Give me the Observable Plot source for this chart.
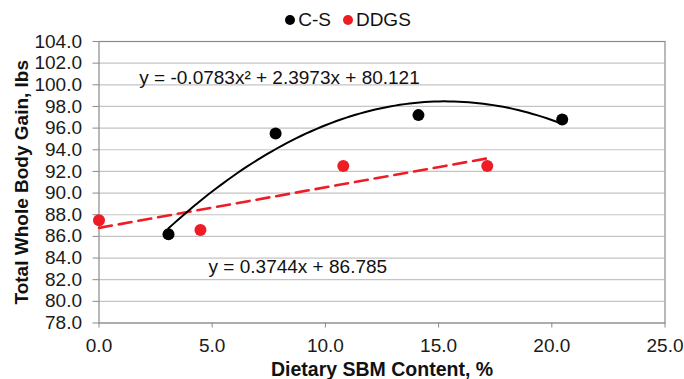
<!DOCTYPE html>
<html>
<head>
<meta charset="utf-8">
<script src="https://cdn.jsdelivr.net/npm/d3@7"></script>
<script src="https://cdn.jsdelivr.net/npm/@observablehq/plot@0.6"></script>
<style>
  html, body { margin: 0; padding: 0; background: #fff; }
  body { width: 684px; height: 379px; overflow: hidden; font-family: "Liberation Sans", Arial, sans-serif; }
  #legend { height: 30px; box-sizing: border-box; padding-top: 10px; display: flex; align-items: center; justify-content: center; margin-left: 12px; font-size: 19px; color: #111; }
  #legend .item { display: flex; align-items: center; margin: 0 6px; }
  #legend .sw { width: 10px; height: 10px; border-radius: 50%; margin-right: 3px; }
</style>
</head>
<body>
<div id="legend"></div>
<div id="chart"></div>
<script>
// Series
const seriesNames = ["C-S", "DDGS"];
const seriesColors = ["#000000", "#ee1c24"];
const csX = [3.07, 7.80, 14.11, 20.46];
const csY = [86.2, 95.5, 97.2, 96.8];
const ddgsX = [0.0, 4.48, 10.79, 17.15];
const ddgsY = [87.5, 86.6, 92.5, 92.5];
// Trendline equations shown on the chart
const csCoef = [-0.0783, 2.3973, 80.121];   // quadratic a, b, c
const ddgsCoef = [0.3744, 86.785];          // linear slope, intercept
const csLabel = "y = -0.0783x\u00b2 + 2.3973x + 80.121";
const ddgsLabel = "y = 0.3744x + 86.785";
// Axis ticks & titles
const xTicks = [0, 5, 10, 15, 20, 25];
const yTicks = [78, 80, 82, 84, 86, 88, 90, 92, 94, 96, 98, 100, 102, 104];
const xTitle = "Dietary SBM Content, %";
const yTitle = "Total Whole Body Gain, lbs";

// Legend
const legend = document.getElementById("legend");
seriesNames.forEach((n, i) => {
  const it = document.createElement("div"); it.className = "item";
  const sw = document.createElement("div"); sw.className = "sw"; sw.style.background = seriesColors[i];
  const t = document.createElement("span"); t.textContent = n;
  it.append(sw, t); legend.append(it);
});

const points = [
  ...csX.map((x, i) => ({x, y: csY[i], s: seriesNames[0]})),
  ...ddgsX.map((x, i) => ({x, y: ddgsY[i], s: seriesNames[1]}))
];

// Trendline samples computed from the displayed equations over each series' x range
const csMin = d3.min(csX), csMax = d3.max(csX);
const csCurve = d3.range(0, 81).map(k => {
  const x = csMin + (csMax - csMin) * k / 80;
  return {x, y: csCoef[0] * x * x + csCoef[1] * x + csCoef[2]};
});
const ddgsLine = [d3.min(ddgsX), d3.max(ddgsX)].map(x => ({x, y: ddgsCoef[0] * x + ddgsCoef[1]}));

const plot = Plot.plot({
  width: 684,
  height: 349,
  marginLeft: 98.5,
  marginRight: 19.5,
  marginTop: 11,
  marginBottom: 56.5,
  style: {fontFamily: '"Liberation Sans", Arial, sans-serif', fontSize: "19px", color: "#1a1a1a", background: "#fff"},
  x: {domain: [0, 25]},
  y: {domain: [78, 104]},
  color: {domain: seriesNames, range: seriesColors},
  marks: [
    Plot.gridY(yTicks, {stroke: "#c4c4c4", strokeOpacity: 1, strokeWidth: 1.2}),
    Plot.frame({stroke: "#8a8a8a", strokeWidth: 1.2}),
    Plot.axisX(xTicks, {tickFormat: d => d.toFixed(1), tickSize: 5, tickPadding: 10, stroke: "#8a8a8a", label: null}),
    Plot.axisY(yTicks, {tickFormat: d => d.toFixed(1), tickSize: 6, tickPadding: 11, stroke: "#8a8a8a", label: null}),
    Plot.line(ddgsLine, {x: "x", y: "y", stroke: seriesColors[1], strokeWidth: 2.6, strokeDasharray: "13,7"}),
    Plot.line(csCurve, {x: "x", y: "y", stroke: seriesColors[0], strokeWidth: 2, curve: "linear"}),
    Plot.dot(points, {x: "x", y: "y", fill: "s", r: 6, stroke: "none"}),
    Plot.text([csLabel], {x: 1.78, y: 100.65, text: d => d, textAnchor: "start", fill: "#111", fontSize: 19}),
    Plot.text([ddgsLabel], {x: 4.84, y: 83.15, text: d => d, textAnchor: "start", fill: "#111", fontSize: 19}),
    Plot.text([xTitle], {frameAnchor: "bottom", dy: 46.5, lineAnchor: "middle", textAnchor: "middle", text: d => d, fontWeight: "bold", fontSize: 19.5, fill: "#111"}),
    Plot.text([yTitle], {frameAnchor: "left", dx: -77, rotate: -90, textAnchor: "middle", lineAnchor: "middle", text: d => d, fontWeight: "bold", fontSize: 19, fill: "#111"})
  ]
});
document.getElementById("chart").append(plot);
</script>
</body>
</html>
